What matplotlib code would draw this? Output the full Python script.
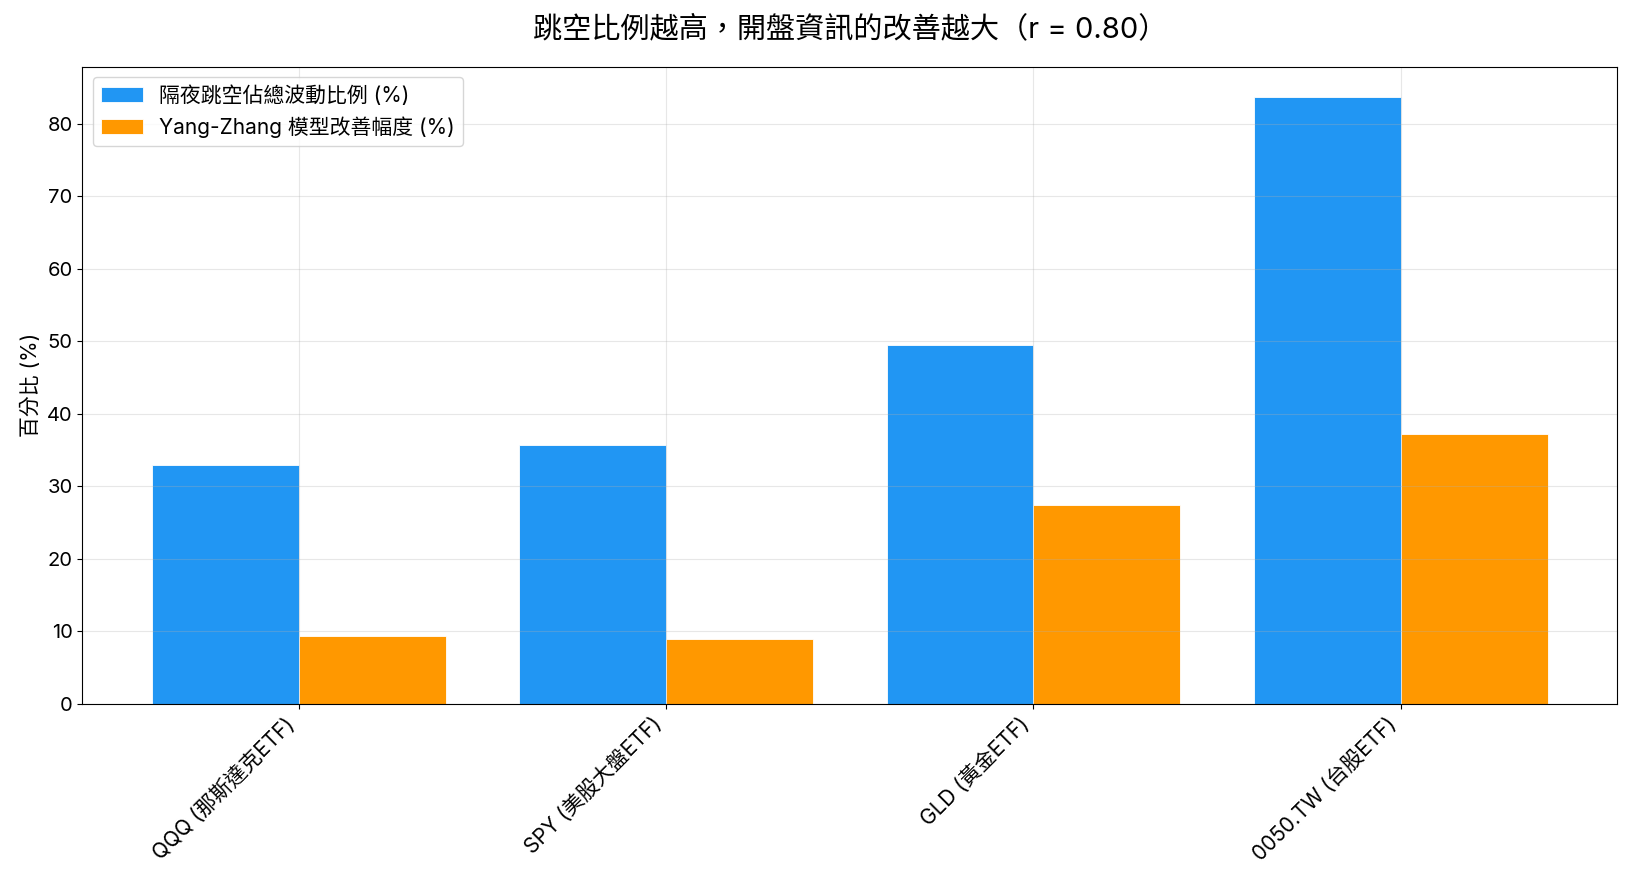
import matplotlib.pyplot as plt
import numpy as np

plt.rcParams['font.family'] = ['Inter', 'Noto Sans CJK TC', 'DejaVu Sans']

# Data
categories = ['QQQ (那斯達克ETF)', 'SPY (美股大盤ETF)', 'GLD (黃金ETF)', '0050.TW (台股ETF)']
gap_ratio = [32.9, 35.7, 49.5, 83.7]
yz_improve = [9.4, 8.9, 27.4, 37.2]

x = np.arange(len(categories))
width = 0.4

fig, ax = plt.subplots(figsize=(16.33, 8.83), dpi=100)
fig.subplots_adjust(left=0.0504, right=0.9904, top=0.9245, bottom=0.2028)

ax.bar(x - width / 2, gap_ratio, width, color='#2196F3', edgecolor='white', linewidth=0.6,
       label='隔夜跳空佔總波動比例 (%)')
ax.bar(x + width / 2, yz_improve, width, color='#FF9800', edgecolor='white', linewidth=0.6,
       label='Yang-Zhang 模型改善幅度 (%)')

ax.set_xticks(x)
ax.set_xticklabels(categories, rotation=45, ha='right', fontsize=15)
ax.tick_params(axis='y', labelsize=14.5)
ax.set_ylabel('百分比 (%)', fontsize=15)
ax.set_title('跳空比例越高，開盤資訊的改善越大（r = 0.80）', fontsize=21, pad=21)
ax.grid(True, alpha=0.3)
ax.legend(loc='upper left', fontsize=15)

plt.savefig('out.png', dpi=100)
